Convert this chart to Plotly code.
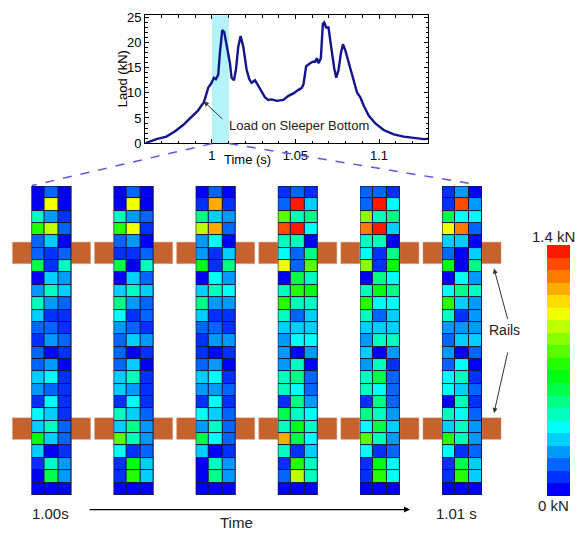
import plotly.graph_objects as go

W, H = 577, 541
FONT = "Liberation Sans, Arial, sans-serif"

# ---------------- data ----------------
time_s = [0.9604, 0.9628, 0.9668, 0.9728, 0.9778, 0.9828, 0.9878, 0.9918, 0.9938, 0.9952,
          0.9964, 0.9978, 0.9998, 1.0012, 1.0024, 1.0038, 1.0048, 1.0062, 1.0074, 1.0088,
          1.0108, 1.0118, 1.0132, 1.0144, 1.0158, 1.0172, 1.0188, 1.0208, 1.0224, 1.0238,
          1.0258, 1.0278, 1.0298, 1.0318, 1.0338, 1.0358, 1.0388, 1.0428, 1.0458, 1.0488,
          1.0518, 1.0538, 1.0548, 1.0564, 1.0588, 1.0604, 1.0618, 1.0628, 1.0638, 1.0652,
          1.0664, 1.0672, 1.0684, 1.0698, 1.0708, 1.0718, 1.0732, 1.0744, 1.0758, 1.0772,
          1.0784, 1.0798, 1.0812, 1.0828, 1.0848, 1.0868, 1.0888, 1.0908, 1.0938, 1.0978,
          1.1028, 1.1088, 1.1148, 1.1208, 1.1268, 1.1294]
load_kN = [0.0, 0.3, 0.8, 1.3, 2.3, 3.6, 5.2, 6.5, 7.5, 8.1,
           9.4, 11.0, 12.0, 13.0, 12.7, 13.6, 17.9, 22.5, 22.1, 19.8,
           15.9, 13.0, 12.5, 14.6, 19.2, 21.3, 19.2, 14.6, 12.7, 12.0,
           12.5, 11.4, 10.1, 9.1, 8.6, 8.7, 8.4, 8.6, 9.4, 9.9,
           10.6, 11.0, 11.7, 15.3, 15.9, 16.2, 16.2, 16.9, 15.9, 16.9,
           23.7, 24.0, 23.0, 23.0, 20.5, 17.9, 14.9, 13.0, 14.6, 17.9,
           19.7, 18.5, 16.9, 14.6, 12.3, 10.1, 9.1, 7.5, 5.5, 3.9,
           2.6, 1.75, 1.3, 1.0, 0.8, 0.85]

x_ticks = [1.0, 1.05, 1.1]
x_tick_labels = ["1", "1.05", "1.1"]
y_ticks = [0, 5, 10, 15, 20, 25]
snap_window = [1.0, 1.0102]
snap_labels = ["1.00s", "1.01 s"]

# pressure maps on the sleeper bottom (kN), 25 rows x 3 columns, top row first
hm1 = [[0.03,0.15,0.03],[0.03,0.98,0.03],[0.42,0.25,0.12],[0.72,0.92,0.14],[0.18,0.31,0.04],
       [0.17,0.08,0.18],[0.56,0.09,0.43],[0.03,0.31,0.24],[0.25,0.42,0.32],[0.48,0.25,0.18],
       [0.32,0.13,0.11],[0.18,0.18,0.11],[0.12,0.24,0.17],[0.18,0.04,0.11],[0.18,0.25,0.04],
       [0.31,0.38,0.07],[0.25,0.18,0.11],[0.07,0.37,0.10],[0.38,0.32,0.10],[0.31,0.43,0.17],
       [0.68,0.32,0.17],[0.33,0.04,0.09],[0.07,0.47,0.24],[0.06,0.60,0.24],[0.03,0.03,0.03]]
hm2 = [[0.03,0.14,0.06],[0.03,0.98,0.03],[0.42,0.25,0.18],[0.72,1.00,0.13],[0.18,0.25,0.04],
       [0.11,0.07,0.18],[0.56,0.04,0.43],[0.03,0.31,0.20],[0.31,0.42,0.32],[0.52,0.25,0.18],
       [0.39,0.10,0.17],[0.24,0.18,0.12],[0.16,0.30,0.24],[0.17,0.04,0.10],[0.18,0.32,0.04],
       [0.31,0.42,0.07],[0.31,0.25,0.11],[0.07,0.38,0.10],[0.42,0.32,0.17],[0.30,0.50,0.25],
       [0.78,0.43,0.24],[0.38,0.07,0.18],[0.07,0.64,0.30],[0.10,0.70,0.31],[0.03,0.03,0.03]]
hm3 = [[0.03,0.14,0.03],[0.07,1.18,0.07],[0.50,0.30,0.24],[0.92,1.18,0.17],[0.24,0.38,0.04],
       [0.22,0.08,0.30],[0.68,0.08,0.52],[0.03,0.38,0.24],[0.31,0.46,0.38],[0.52,0.24,0.22],
       [0.31,0.11,0.10],[0.17,0.17,0.12],[0.10,0.22,0.22],[0.09,0.04,0.10],[0.17,0.22,0.04],
       [0.32,0.38,0.07],[0.24,0.24,0.18],[0.07,0.38,0.10],[0.38,0.32,0.17],[0.24,0.43,0.18],
       [0.62,0.38,0.17],[0.31,0.04,0.10],[0.04,0.48,0.24],[0.06,0.54,0.24],[0.06,0.04,0.03]]
hm4 = [[0.10,0.17,0.10],[0.17,1.40,0.30],[0.80,0.45,0.50],[1.30,1.40,0.38],[0.45,0.45,0.06],
       [0.38,0.17,0.50],[1.00,0.17,0.78],[0.06,0.56,0.43],[0.45,0.72,0.66],[0.76,0.43,0.45],
       [0.47,0.17,0.32],[0.32,0.32,0.32],[0.24,0.38,0.37],[0.24,0.04,0.24],[0.24,0.43,0.04],
       [0.42,0.50,0.17],[0.43,0.38,0.17],[0.10,0.50,0.24],[0.60,0.45,0.38],[0.45,0.68,0.42],
       [1.12,0.56,0.38],[0.45,0.10,0.31],[0.10,0.76,0.45],[0.17,0.92,0.45],[0.03,0.06,0.04]]
hm5 = [[0.17,0.17,0.12],[0.17,1.40,0.38],[0.88,0.45,0.52],[1.24,1.40,0.32],[0.43,0.43,0.04],
       [0.38,0.11,0.50],[0.86,0.08,0.68],[0.03,0.52,0.38],[0.45,0.64,0.52],[0.70,0.38,0.38],
       [0.47,0.17,0.32],[0.31,0.31,0.31],[0.24,0.42,0.42],[0.31,0.04,0.24],[0.24,0.45,0.07],
       [0.45,0.60,0.17],[0.43,0.38,0.17],[0.10,0.52,0.18],[0.52,0.43,0.24],[0.38,0.60,0.31],
       [0.82,0.47,0.24],[0.38,0.07,0.17],[0.08,0.66,0.38],[0.10,0.70,0.38],[0.06,0.04,0.06]]
hm6 = [[0.10,0.24,0.04],[0.10,1.32,0.24],[0.62,0.38,0.38],[1.00,1.24,0.18],[0.31,0.31,0.04],
       [0.17,0.04,0.31],[0.68,0.04,0.50],[0.03,0.38,0.24],[0.38,0.50,0.43],[0.70,0.31,0.24],
       [0.43,0.10,0.24],[0.24,0.24,0.24],[0.17,0.31,0.31],[0.24,0.04,0.17],[0.17,0.38,0.04],
       [0.38,0.45,0.10],[0.38,0.31,0.17],[0.05,0.43,0.12],[0.45,0.38,0.17],[0.31,0.45,0.24],
       [0.76,0.45,0.24],[0.38,0.08,0.17],[0.07,0.60,0.31],[0.10,0.70,0.31],[0.03,0.03,0.03]]
maps = [hm1, hm2, hm3, hm4, hm5, hm6]
z_min, z_max = 0.0, 1.4
cbar_labels = ["1.4 kN", "0 kN"]

# ---------------- helpers ----------------
def PX(x):
    return x / W

def PY(y):
    return 1 - y / H

# stepped rainbow colour scale (blue -> cyan -> green -> yellow -> red)
nodes = [(0.0, (0, 0, 215)), (0.03, (0, 0, 255)), (0.27, (0, 255, 255)),
         (0.49, (0, 255, 0)), (0.74, (255, 255, 0)), (1.0, (255, 0, 0))]

def rainbow(f):
    for (f0, c0), (f1, c1) in zip(nodes[:-1], nodes[1:]):
        if f <= f1:
            t = (f - f0) / (f1 - f0)
            return tuple(int(round(a + (b - a) * t)) for a, b in zip(c0, c1))
    return nodes[-1][1]

NB = 20
cscale = []
for i in range(NB):
    c = rainbow((i + 0.5) / NB)
    col = "rgb(%d,%d,%d)" % c
    cscale.append([i / NB, col])
    cscale.append([(i + 1) / NB, col])

# ---------------- figure ----------------
fig = go.Figure()

# top panel
top_x = [PX(145), PX(428)]
top_y = [PY(141.5), PY(10.5)]
fig.add_trace(go.Scatter(x=time_s, y=load_kN, mode="lines",
                         line=dict(color="#14148c", width=2.4),
                         xaxis="x", yaxis="y", showlegend=False, hoverinfo="skip"))

layout_axes = {}
layout_axes["xaxis"] = dict(domain=top_x, anchor="y", range=[0.96, 1.1293],
                            tickvals=x_ticks, ticktext=x_tick_labels,
                            ticks="inside", ticklen=4, tickcolor="black",
                            minor=dict(dtick=0.01, tick0=1.0, ticks="inside", ticklen=2.5, tickcolor="black"),
                            showline=True, linecolor="black", linewidth=1, mirror="ticks",
                            showgrid=False, zeroline=False,
                            tickfont=dict(size=13, family=FONT, color="black"))
layout_axes["yaxis"] = dict(domain=top_y, anchor="x", range=[0, 25.45],
                            tickvals=y_ticks, ticks="inside", ticklen=4, tickcolor="black",
                            minor=dict(dtick=1, ticks="inside", ticklen=2.5, tickcolor="black"),
                            showline=True, linecolor="black", linewidth=1, mirror="ticks",
                            showgrid=False, zeroline=False,
                            tickfont=dict(size=13, family=FONT, color="black"))

shapes = []
annotations = []

# snapshot window band
shapes.append(dict(type="rect", xref="x", yref="y", x0=snap_window[0], x1=snap_window[1],
                   y0=0, y1=25.45, fillcolor="#b4f4f8", line=dict(width=0), layer="below"))

# heat maps
lefts = [31.5 + 82.1 * i for i in range(6)]
hm_top, hm_bot = 185.5, 502.0
for i, (z, left) in enumerate(zip(maps, lefts)):
    k = i + 2
    xa, ya = "x%d" % k, "y%d" % k
    fig.add_trace(go.Heatmap(z=z, x=[0, 1, 2], y=list(range(len(z))),
                             coloraxis="coloraxis", xgap=1, ygap=1,
                             xaxis=xa, yaxis=ya, hoverinfo="skip"))
    layout_axes["xaxis%d" % k] = dict(domain=[PX(left), PX(left + 40)], anchor=ya,
                                      range=[-0.5, 2.5], visible=False, fixedrange=True)
    layout_axes["yaxis%d" % k] = dict(domain=[PY(hm_bot), PY(hm_top)], anchor=xa,
                                      range=[len(z) - 0.5, -0.5], visible=False, fixedrange=True)
    shapes.append(dict(type="rect", xref=xa, yref=ya, x0=-0.5, x1=2.5, y0=-0.5, y1=len(z) - 0.5,
                       fillcolor="#15153a", line=dict(width=0), layer="below"))
    shapes.append(dict(type="rect", xref=xa, yref=ya, x0=-0.5, x1=2.5, y0=-0.5, y1=len(z) - 0.5,
                       fillcolor="rgba(0,0,0,0)", line=dict(color="#1a1a50", width=1.2), layer="above"))
    # rails (sleeper support strips on both sides of each map)
    c = left + 20
    for (ry0, ry1) in [(243, 265), (423, 445)]:
        for (sx0, sx1) in [(c - 39, left), (left + 40, c + 39)]:
            shapes.append(dict(type="rect", xref="paper", yref="paper",
                               x0=PX(sx0), x1=PX(sx1), y0=PY(ry1), y1=PY(ry0),
                               fillcolor="#c5622d", line=dict(color="#d9906a", width=0.5),
                               layer="below"))

# dashed zoom lines
for (x0, y0, x1, y1) in [(212, 142, 32, 185), (229, 142, 477, 184)]:
    shapes.append(dict(type="line", xref="paper", yref="paper",
                       x0=PX(x0), y0=PY(y0), x1=PX(x1), y1=PY(y1),
                       line=dict(color="#5a5ae0", width=1.5, dash="dash")))

def label(x, y, text, size, angle=0, color="#222222", xanchor="center"):
    annotations.append(dict(x=PX(x), y=PY(y), xref="paper", yref="paper",
                            xanchor=xanchor, yanchor="middle", showarrow=False,
                            text=text, textangle=angle,
                            font=dict(size=size, family=FONT, color=color)))

def arrow(x, y, ax, ay, width=1.0, color="#333333"):
    annotations.append(dict(x=PX(x), y=PY(y), xref="paper", yref="paper", ax=ax, ay=ay,
                            text="", showarrow=True, arrowhead=2, arrowsize=1,
                            arrowwidth=width, arrowcolor=color))

# top chart annotations
annotations.append(dict(x=0.9952, y=8.3, xref="x", yref="y", ax=20, ay=19,
                        text="", showarrow=True, arrowhead=2, arrowsize=1, arrowwidth=1,
                        arrowcolor="#333333"))
label(227, 123, "Load on Sleeper Bottom", 13, xanchor="left")
label(122, 76, "Laod (kN)", 13, angle=-90, color="black")
label(247, 158, "Time (s)", 13, color="black")

# bottom labels / time arrow
label(50, 521, snap_labels[0], 15)
label(456, 521, snap_labels[1], 15)
label(236, 530, "Time", 15)
arrow(410, 517, -322, 0, width=1.2, color="black")

# rails label
label(504, 333, "Rails", 14)
arrow(494, 270, 14, 52)
arrow(494, 418, 14, -62)

# colour bar labels
label(553, 237, cbar_labels[0], 15)
label(553, 513, cbar_labels[1], 15)

fig.update_layout(
    width=W, height=H,
    margin=dict(l=0, r=0, t=0, b=0, pad=0),
    paper_bgcolor="white", plot_bgcolor="white",
    showlegend=False,
    coloraxis=dict(colorscale=cscale, cmin=z_min, cmax=z_max,
                   colorbar=dict(x=PX(547), xanchor="left", y=PY(375), yanchor="middle",
                                 len=251, lenmode="pixels", thickness=23, thicknessmode="pixels",
                                 xpad=0, ypad=0, outlinewidth=0, showticklabels=False, ticks="")),
    shapes=shapes, annotations=annotations,
    **layout_axes,
)

fig.write_html("out.html", config={"displayModeBar": False},
               post_script="document.body.style.margin='0';document.body.style.overflow='hidden';")
